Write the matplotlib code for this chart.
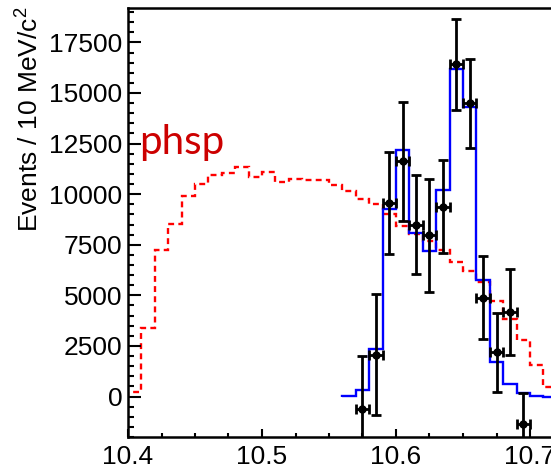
import numpy as np
import matplotlib
matplotlib.use('Agg')
import matplotlib.pyplot as plt
from matplotlib.ticker import MultipleLocator

plt.rcParams['font.family'] = ['Liberation Sans', 'DejaVu Sans']
plt.rcParams['mathtext.fontset'] = 'custom'
plt.rcParams['mathtext.rm'] = 'Liberation Sans'
plt.rcParams['mathtext.it'] = 'Liberation Sans:italic'

# phase space MC (red dashed), 10 MeV bins from 10.40
phsp_edges = np.round(np.arange(10.40, 10.7201, 0.01), 2)
phsp_vals = [210, 3400, 7250, 8540, 9890, 10480, 10960, 11040, 11340, 10840,
             11090, 10580, 10730, 10680, 10680, 10430, 10150, 9770, 9530, 9030,
             8450, 8040, 7710, 7250, 6670, 6180, 5650, 4700, 3840, 2770,
             1570, 460]

# fit result (blue), bins from 10.56
fit_edges = np.round(np.arange(10.56, 10.7201, 0.01), 2)
fit_vals = [50, 330, 2360, 9250, 12160, 8090, 7190, 10230, 16200, 14300,
            5740, 1730, 610, 180, 30, 0]

# data points
data_x = np.round(np.arange(10.575, 10.70, 0.01), 3)
data_y = [-640, 2060, 9560, 11620, 8500, 7960, 9390, 16410, 14500, 4880,
          2190, 4170, -1380]
data_err = [2640, 2990, 2500, 2940, 2460, 2800, 2320, 2240, 2200, 2060,
            1950, 2140, 1570]

fig = plt.figure(figsize=(5.51, 4.71), dpi=100)
ax = fig.add_axes([128/551, 34/471, 536/551, 429/471])

ax.stairs(phsp_vals, phsp_edges, color='#ff0000', lw=1.7,
          linestyle=(0, (2.5, 1.8)))
ax.stairs(fit_vals, fit_edges, color='#0000ff', lw=1.7)
ax.errorbar(data_x, data_y, yerr=data_err, xerr=0.005, fmt='o', color='black',
            ms=5, elinewidth=2.0, capsize=3.5, capthick=2.0)

ax.set_xlim(10.4, 10.8)
ax.set_ylim(-2000, 19200)

ax.xaxis.set_major_locator(MultipleLocator(0.1))
ax.xaxis.set_minor_locator(MultipleLocator(0.025))
ax.yaxis.set_major_locator(MultipleLocator(2500))
ax.yaxis.set_minor_locator(MultipleLocator(500))
ax.xaxis.set_major_formatter(plt.FuncFormatter(lambda v, p: '%.1f' % v))
ax.tick_params(which='both', direction='in', width=1.5, labelsize=19,
               right=False, top=False)
ax.tick_params(axis='x', which='major', length=6, pad=6)
ax.tick_params(axis='x', which='minor', length=3)
ax.tick_params(axis='y', which='major', length=9, pad=4)
ax.tick_params(axis='y', which='minor', length=4.5)
for s in ax.spines.values():
    s.set_linewidth(1.8)

fig.text(30/551, 1 - 6/471, 'Events / 10 MeV/c$^{2}$', rotation=90,
         ha='center', va='top', fontsize=19)

ax.text(10.408, 12000, 'phsp', color='#cc0000', fontsize=29,
        family=['Lato', 'DejaVu Sans'], va='baseline')

fig.savefig('out.png', dpi=100)
